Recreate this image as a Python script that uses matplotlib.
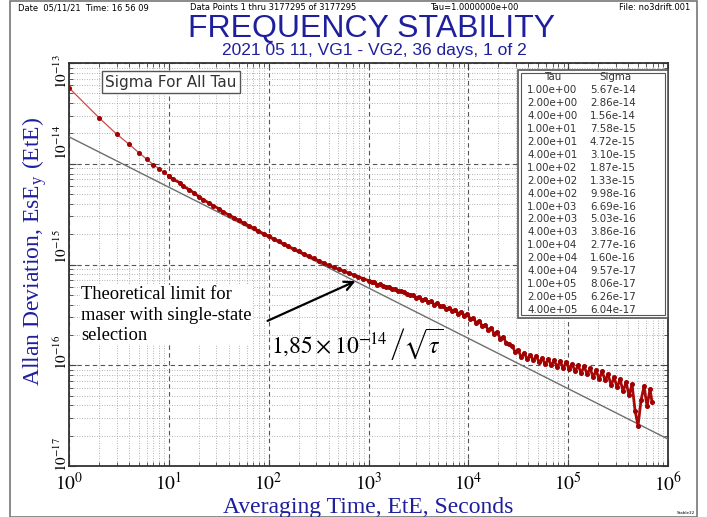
import matplotlib
matplotlib.use('Agg')
import matplotlib.pyplot as plt
from matplotlib.patches import Rectangle
import numpy as np

plt.rcParams['mathtext.fontset'] = 'stix'

# averaging times (s) and Allan deviation
tau_a = [1, 2, 3, 4, 5, 6, 7, 8, 9]
sig_a = [5.67e-14, 2.86e-14, 1.97e-14, 1.56e-14, 1.29e-14, 1.11e-14, 9.8e-15, 8.9e-15, 8.2e-15]

tau_b = [10, 11, 13, 14, 16, 18, 20, 22, 25, 28, 32, 35, 40, 45, 50, 56, 63, 71, 79, 89,
         100, 112, 126, 141, 158, 178, 200, 224, 251, 282, 316, 355, 398, 447, 501, 562,
         631, 708, 794, 891]
sig_b_e15 = [7.59, 7.00, 6.47, 5.98, 5.53, 5.12, 4.72, 4.41, 4.10, 3.83, 3.56, 3.33, 3.10,
             2.92, 2.74, 2.58, 2.43, 2.29, 2.15, 2.02, 1.91, 1.80, 1.70, 1.60, 1.51, 1.43,
             1.35, 1.28, 1.21, 1.15, 1.09, 1.03, 0.980, 0.938, 0.897, 0.859, 0.822, 0.787,
             0.753, 0.723]

tau_c = [1000, 1072, 1148, 1230, 1318, 1413, 1514, 1622, 1738, 1862,
         1995, 2138, 2291, 2455, 2630, 2818, 3020, 3236, 3467, 3715,
         3981, 4266, 4571, 4898, 5248, 5623, 6026, 6457, 6918, 7413,
         7943, 8511, 9120, 9772, 10471, 11220, 12023, 12882, 13804, 14791,
         15849, 16982, 18197, 19498, 20893, 22387, 23988, 25704, 27542, 29512,
         31623, 33884, 36308, 38905, 41687, 44668, 47863, 51286, 54954, 58884,
         63096, 67608, 72444, 77625, 83176, 89125, 95499, 102329, 109648, 117490,
         125893, 134896, 144544, 154882, 165959, 177828, 190546, 204174, 218776, 234423,
         251189, 269153, 288403, 309030, 331131, 354813, 380189, 407380, 436516, 467735,
         501187, 537032, 575440, 616595, 660693, 691831]
sig_c_e16 = [6.92, 6.76, 6.68, 6.31, 6.38, 6.17, 5.96, 5.96, 5.75, 5.69,
             5.50, 5.43, 5.31, 5.07, 5.01, 4.95, 4.68, 4.73, 4.47, 4.52,
             4.22, 4.32, 3.98, 4.12, 3.85, 3.89, 3.59, 3.72, 3.47, 3.55,
             3.24, 3.39, 3.09, 3.24, 2.88, 2.95, 2.63, 2.75, 2.45, 2.51,
             2.24, 2.34, 2.04, 2.14, 1.82, 1.91, 1.66, 1.62, 1.55, 1.35,
             1.41, 1.20, 1.32, 1.15, 1.26, 1.12, 1.23, 1.07, 1.17, 1.02,
             1.15, 1.00, 1.12, 0.955, 1.10, 0.933, 1.07, 0.912, 1.02, 0.871,
             1.00, 0.832, 0.977, 0.813, 0.933, 0.759, 0.891, 0.724, 0.871, 0.708,
             0.813, 0.631, 0.759, 0.603, 0.724, 0.550, 0.676, 0.501, 0.646, 0.355,
             0.251, 0.45, 0.62, 0.39, 0.58, 0.43]

# table in the upper right box
table_tau = [1, 2, 4, 10, 20, 40, 100, 200, 400, 1e3, 2e3, 4e3, 1e4, 2e4, 4e4, 1e5, 2e5, 4e5]
table_sigma = [5.67e-14, 2.86e-14, 1.56e-14, 7.58e-15, 4.72e-15, 3.10e-15, 1.87e-15, 1.33e-15,
               9.98e-16, 6.69e-16, 5.03e-16, 3.86e-16, 2.77e-16, 1.60e-16, 9.57e-17, 8.06e-17,
               6.26e-17, 6.04e-17]

# theoretical limit 1.85e-14/sqrt(tau)
theory_coef = 1.85e-14
theory_tau = [1, 1e6]

sig_b = list(np.array(sig_b_e15) * 1e-15)
sig_c = list(np.array(sig_c_e16) * 1e-16)
theory_sigma = theory_coef / np.sqrt(np.array(theory_tau))

W, H = 707, 517
def px(x, y):
    return x / W, 1 - y / H

blue = '#1f1f9e'
fig = plt.figure(figsize=(7.07, 5.17), dpi=100)
fig.patches.append(Rectangle(px(10, 517), 687 / W, 516 / H, transform=fig.transFigure,
                             fill=False, edgecolor='#777777', lw=1.2))

ax = fig.add_axes([69 / W, 1 - 466 / H, (668 - 69) / W, (466 - 63) / H])
ax.set_xscale('log')
ax.set_yscale('log')
ax.set_xlim(1, 1e6)
ax.set_ylim(1e-17, 1e-13)

ax.plot(theory_tau, theory_sigma, color='#6e6e6e', lw=1.0, zorder=3)
# sparse start: thin line with dots, dense part: thick band
ax.plot(tau_a + tau_b[:1], sig_a + sig_b[:1], color='#d04848', lw=0.9, marker='o', ms=2.6,
        mfc='#a00000', mec='#a00000', zorder=4)
ax.plot(tau_b + tau_c, sig_b + sig_c, color='#a80808', lw=2.0, marker='o', ms=2.6,
        mfc='#a00000', mec='#a00000', zorder=4)

ax.grid(True, which='major', ls=(0, (4, 3)), color='#555555', lw=0.8)
ax.grid(True, which='minor', ls=(0, (1, 2)), color='#999999', lw=0.6)
ax.set_axisbelow(True)
ax.tick_params(which='both', direction='in', top=True, right=True, length=3, color='#444444')
ax.tick_params(which='major', length=5)
ax.set_xticklabels([])
ax.set_yticklabels([])
ax.xaxis.set_minor_formatter(plt.NullFormatter())
ax.yaxis.set_minor_formatter(plt.NullFormatter())
for s in ax.spines.values():
    s.set_color('#333333')
    s.set_linewidth(1.3)

# x tick labels
for k in range(7):
    x = 69 + k * (668 - 69) / 6
    fig.text(*px(x, 483), r'$10^{%d}$' % k, ha='center', va='center', fontsize=14)

# y tick labels (rotated, as in the original)
for k, yy in zip([-13, -14, -15, -16, -17], [72, 142, 247, 352, 455]):
    fig.text(*px(61, yy), r'$10^{%d}$' % k, ha='center', va='center', fontsize=11, rotation=90)

fig.text(*px(368, 508), 'Averaging Time, EtE, Seconds', ha='center', va='center',
         fontsize=17, color=blue, family='Liberation Serif')
fig.text(*px(35, 251), r'Allan Deviation, EsE$_\mathregular{y}$ (EtE)', ha='center', va='center',
         fontsize=17, color=blue, family='Liberation Serif', rotation=90)

# header
fig.text(*px(18, 8), 'Date  05/11/21  Time: 16 56 09', fontsize=6, va='center')
fig.text(*px(190, 8), 'Data Points 1 thru 3177295 of 3177295', fontsize=6, va='center')
fig.text(*px(430, 8), 'Tau=1.0000000e+00', fontsize=6, va='center')
fig.text(*px(690, 8), 'File: no3drift.001', fontsize=6, va='center', ha='right')
fig.text(*px(372, 29), 'FREQUENCY STABILITY', ha='center', va='center', fontsize=23,
         color=blue, family='Liberation Sans')
fig.text(*px(374, 51), '2021 05 11, VG1 - VG2, 36 days, 1 of 2', ha='center', va='center',
         fontsize=12.5, color=blue, family='Liberation Sans')
fig.text(*px(695, 513), 'Stable32', fontsize=3, ha='right', va='center')

# "Sigma For All Tau" box
fig.text(*px(171, 82), 'Sigma For All Tau', ha='center', va='center', fontsize=11,
         color='#333333', bbox=dict(boxstyle='square,pad=0.2', fc='white', ec='#555555', lw=1))

# table box
fig.patches.append(Rectangle(px(518, 318), 150 / W, 248 / H, transform=fig.transFigure,
                             fc='white', ec='#555555', lw=1.2, zorder=5))
fig.patches.append(Rectangle(px(521, 315), 144 / W, 242 / H, transform=fig.transFigure,
                             fill=False, ec='#555555', lw=0.8, zorder=5))
fig.text(*px(553, 77), 'Tau', ha='center', va='center', fontsize=7.4, color='#333333', zorder=6)
fig.text(*px(615, 77), 'Sigma', ha='center', va='center', fontsize=7.4, color='#333333', zorder=6)
for i, (t, s) in enumerate(zip(table_tau, table_sigma)):
    y = 90 + i * 12.95
    fig.text(*px(527, y), '%.2e' % t, va='center', fontsize=7.4, color='#333333', zorder=6)
    fig.text(*px(590, y), '%.2e' % s, va='center', fontsize=7.4, color='#333333', zorder=6)

# annotation
fig.text(*px(81, 315), 'Theoretical limit for\nmaser with single-state\nselection', ha='left',
         va='center', fontsize=13.3, family='Liberation Serif', linespacing=1.25,
         bbox=dict(fc='white', ec='none', pad=1))
ax.annotate('', xy=px(358, 280), xytext=px(265, 322), xycoords='figure fraction',
            textcoords='figure fraction',
            arrowprops=dict(arrowstyle='->', lw=1.6, color='black', mutation_scale=16))
fig.text(*px(357, 345), r'$1{,}85\times10^{-14}\,\left/\sqrt{\tau}\right.$', ha='center',
         va='center', fontsize=17)

fig.savefig('out.png', dpi=100)
